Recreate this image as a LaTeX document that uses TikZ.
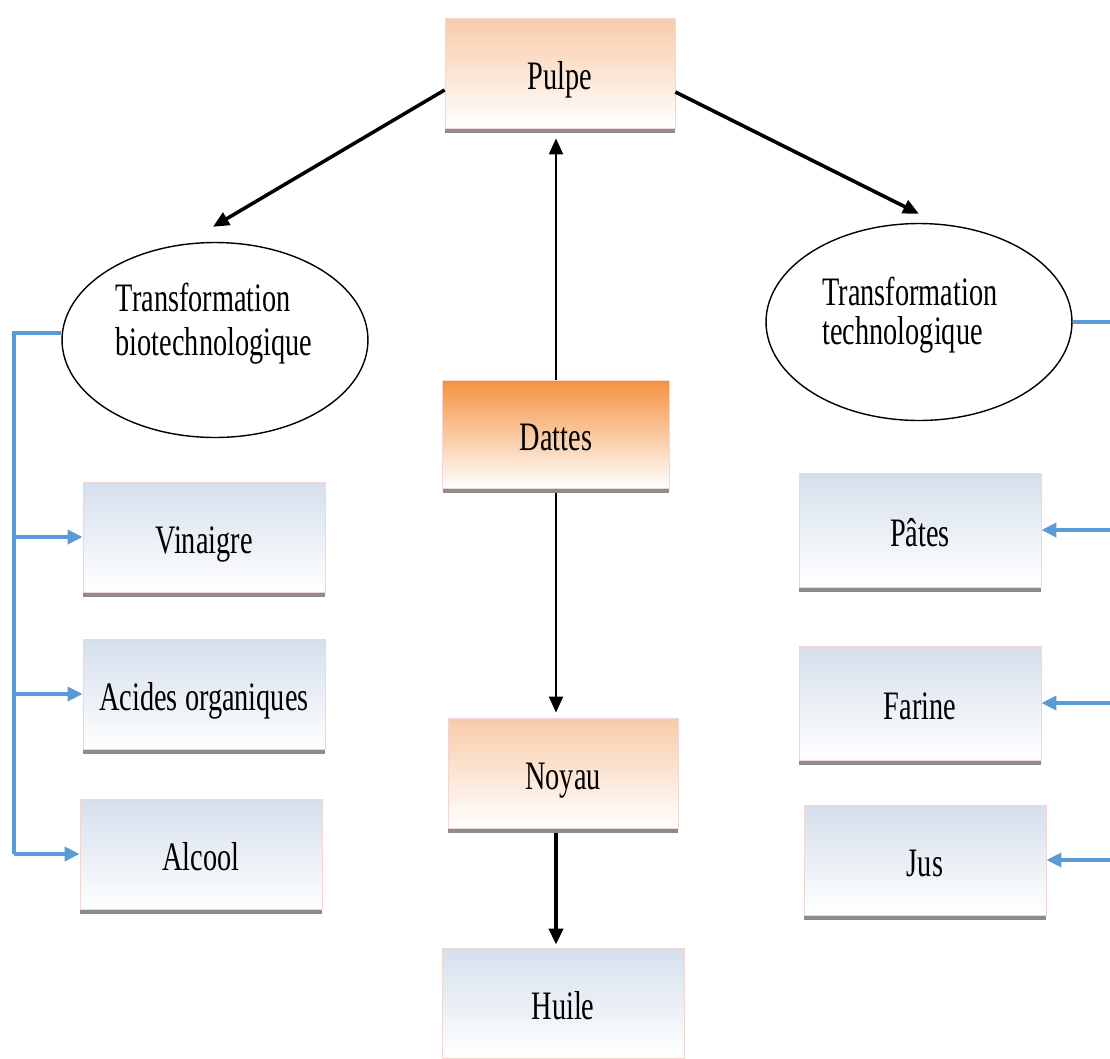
\documentclass[tikz,border=0pt]{standalone}
\usepackage{fontspec}
\setmainfont{Liberation Serif}[FakeStretch=0.7]
\usetikzlibrary{arrows.meta,shadows,shapes.geometric}

\definecolor{peach}{HTML}{F8CBA8}
\definecolor{darkpeach}{HTML}{F5913F}
\definecolor{paleblue}{HTML}{D5DFEC}
\definecolor{linkblue}{HTML}{5B9BD5}
\definecolor{edgepink}{HTML}{F2D6D4}

\begin{document}
\begin{tikzpicture}[
    x=0.02cm, y=-0.02cm,
    box/.style={
        rectangle,
        minimum width=4.6cm,
        minimum height=2.2cm,
        text height=0.7cm,
        text depth=0.05cm,
        draw=edgepink,
        line width=0.5pt,
        top color=peach,
        bottom color=white,
        drop shadow={shadow xshift=0pt, shadow yshift=-0.1cm, fill=black!45, opacity=1},
        font=\fontsize{23}{25}\selectfont
    },
    prod/.style={
        box,
        minimum width=4.84cm,
        top color=paleblue
    },
    trans/.style={
        ellipse,
        draw=black,
        line width=0.8pt,
        fill=white,
        minimum width=6.12cm,
        minimum height=3.9cm
    },
    transtxt/.style={
        align=left,
        font=\fontsize{23}{25}\selectfont
    },
    flow/.style={-{Triangle[length=0.32cm, width=0.28cm]}, line width=2pt},
    link/.style={linkblue, line width=2.2pt},
    linkarrow/.style={link, -{Triangle[length=0.3cm, width=0.28cm]}}
]
\useasboundingbox (0,0) rectangle (1110,1059);

% centre column
\node[box] (pulpe) at (560,73) {Pulpe};
\node[box, top color=darkpeach, minimum width=4.54cm, minimum height=2.16cm] (dattes) at (556,434) {Dattes};
\node[box] (noyau) at (563,773) {Noyau};
\node[prod] (huile) at (563,1003) {Huile};

% the two transformations
\node[trans] (bio) at (215,340) {};
\node[transtxt] (biotxt) at (214,324) {Transformation\\biotechnologique};
\node[trans, minimum height=3.94cm] (techno) at (919,322) {};
\node[transtxt, font=\fontsize{23}{22}\selectfont] (technotxt) at (910,315) {Transformation\\technologique};

% products
\node[prod] (vinaigre) at (204,537) {Vinaigre};
\node[prod] (acides) at (204,694) {Acides organiques};
\node[prod] (alcool) at (201,854) {Alcool};
\node[prod, minimum height=2.28cm] (pates) at (920,530) {Pâtes};
\node[prod, minimum height=2.28cm] (farine) at (920,703) {Farine};
\node[prod] (jus) at (925,860) {Jus};

\draw[flow] ([yshift=-0.34cm]pulpe.west) -- ([xshift=-0.04cm, yshift=0.3cm]bio.north);
\draw[flow] ([yshift=-0.38cm]pulpe.east) -- ([yshift=0.18cm]techno.north);
\draw[flow, line width=1.2pt] (dattes.north) -- ([yshift=-0.2cm]dattes.north |- pulpe.south);
\draw[flow, line width=1.2pt] ([yshift=-0.1cm]dattes.south) -- ([yshift=0.1cm]dattes.south |- noyau.north);
\draw[flow, line width=2.4pt] ([yshift=-0.1cm]dattes.south |- noyau.south) -- ([yshift=0.06cm]dattes.south |- huile.north);

% blue links
\coordinate (lbus) at (14,333);
\coordinate (rbus) at (1112,322);
\draw[link] ([yshift=0.14cm]bio.west) -- (lbus) -- (lbus |- alcool.west);
\foreach \n in {vinaigre, acides, alcool}
    \draw[linkarrow] (lbus |- \n.west) -- (\n.west);
\draw[link] (techno.east) -- (rbus);
\foreach \n in {pates, farine, jus}
    \draw[linkarrow] (rbus |- \n.east) -- (\n.east);

\end{tikzpicture}
\end{document}
